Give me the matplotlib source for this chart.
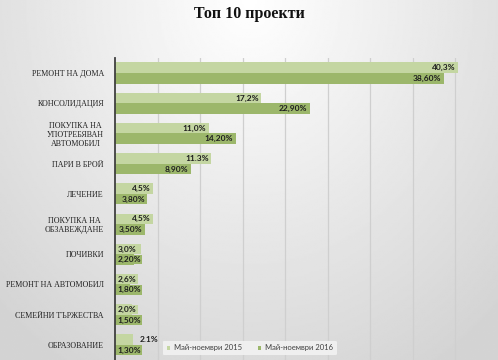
import matplotlib
matplotlib.use("Agg")
import matplotlib.pyplot as plt
import numpy as np

# data
categories = ["РЕМОНТ НА ДОМА", "КОНСОЛИДАЦИЯ", "ПОКУПКА НА\nУПОТРЕБЯВАН\nАВТОМОБИЛ",
              "ПАРИ В БРОЙ", "ЛЕЧЕНИЕ", "ПОКУПКА НА\nОБЗАВЕЖДАНЕ", "ПОЧИВКИ",
              "РЕМОНТ НА АВТОМОБИЛ", "СЕМЕЙНИ ТЪРЖЕСТВА", "ОБРАЗОВАНИЕ"]
vals_2015 = [40.3, 17.2, 11.0, 11.3, 4.5, 4.5, 3.0, 2.6, 2.0, 2.1]
vals_2016 = [38.6, 22.9, 14.2, 8.9, 3.8, 3.5, 2.2, 1.8, 1.5, 1.3]
labels_2015 = ["40,3%", "17,2%", "11,0%", "11.3%", "4,5%", "4,5%", "3,0%", "2,6%", "2,0%", "2.1%"]
labels_2016 = ["38,60%", "22,90%", "14,20%", "8,90%", "3,80%", "3,50%", "2,20%", "1,80%", "1,50%", "1,30%"]
series_names = ["Май-ноември 2015", "Май-ноември 2016"]

light = "#c4d6a2"
dark = "#9cb76b"

fig = plt.figure(figsize=(4.98, 3.6), dpi=100)

# background gradient (white at top centre, grey towards edges)
bg = fig.add_axes([0, 0, 1, 1], zorder=-10)
xx, yy = np.meshgrid(np.linspace(-1, 1, 300), np.linspace(0, 1, 220))
r = np.sqrt((xx * 0.9) ** 2 + (yy * 1.1) ** 2)
shade = 1.0 - 0.17 * np.clip(r, 0, 1.3) / 1.3
bg.imshow(shade, cmap="gray", vmin=0, vmax=1, aspect="auto", extent=[0, 1, 0, 1])
bg.axis("off")

ax = fig.add_axes([0.231, 0.0, 0.769, 0.839])
ax.patch.set_alpha(0)

y = np.arange(len(categories))
h = 0.35
ax.barh(y - h / 2, vals_2015, height=h, color=light, label=series_names[0], zorder=2)
ax.barh(y + h / 2, vals_2016, height=h, color=dark, label=series_names[1], zorder=2)

def put_label(yy, v, txt, col, outside=False):
    kw = dict(fontsize=6, fontweight="bold", family="Lato", color="#1e1e1e",
              va="center", zorder=4)
    if outside:
        ax.text(v + 0.8, yy, txt, ha="left", **kw)
        return
    box = dict(boxstyle="square,pad=0.15", facecolor=col, edgecolor="none")
    if v < 3.3:
        ax.text(0.3, yy, txt, ha="left", bbox=box, **kw)
    else:
        ax.text(v - 0.3, yy, txt, ha="right", bbox=box, **kw)

for i in range(len(categories)):
    put_label(y[i] - h / 2, vals_2015[i], labels_2015[i], light,
              outside=(categories[i] == "ОБРАЗОВАНИЕ"))
    put_label(y[i] + h / 2, vals_2016[i], labels_2016[i], dark)

ax.set_xlim(0, 45)
ax.set_ylim(9.5, -0.5)
ax.set_xticks(np.arange(5, 45, 5))
ax.set_xticklabels([])
ax.tick_params(axis="x", length=0)
ax.grid(axis="x", color="#cfcfcf", linewidth=0.9, zorder=0)
ax.set_yticks(y)
ax.set_yticklabels(categories, family="Liberation Serif", fontsize=5.8,
                   color="#222222", multialignment="center")
ax.tick_params(axis="y", length=0, pad=8)
for s in ["top", "right", "bottom"]:
    ax.spines[s].set_visible(False)
ax.spines["left"].set_color("#404040")
ax.spines["left"].set_linewidth(1.3)

leg = ax.legend(loc="center", bbox_to_anchor=(0.352, 0.04), ncol=2, fontsize=5.5,
                frameon=True, handlelength=0.5, handleheight=0.5, columnspacing=2.0,
                handletextpad=0.5, borderpad=0.5)
leg.get_frame().set_facecolor("#f2f2f2")
leg.get_frame().set_edgecolor("none")
leg.get_frame().set_alpha(0.9)
for t in leg.get_texts():
    t.set_color("#404040")
    t.set_family("Lato")

fig.text(0.5, 0.96, "Топ 10 проекти", ha="center", va="center",
         family="Liberation Serif", fontweight="bold", fontsize=11.5, color="#111111")

fig.savefig("out.png", dpi=100)
